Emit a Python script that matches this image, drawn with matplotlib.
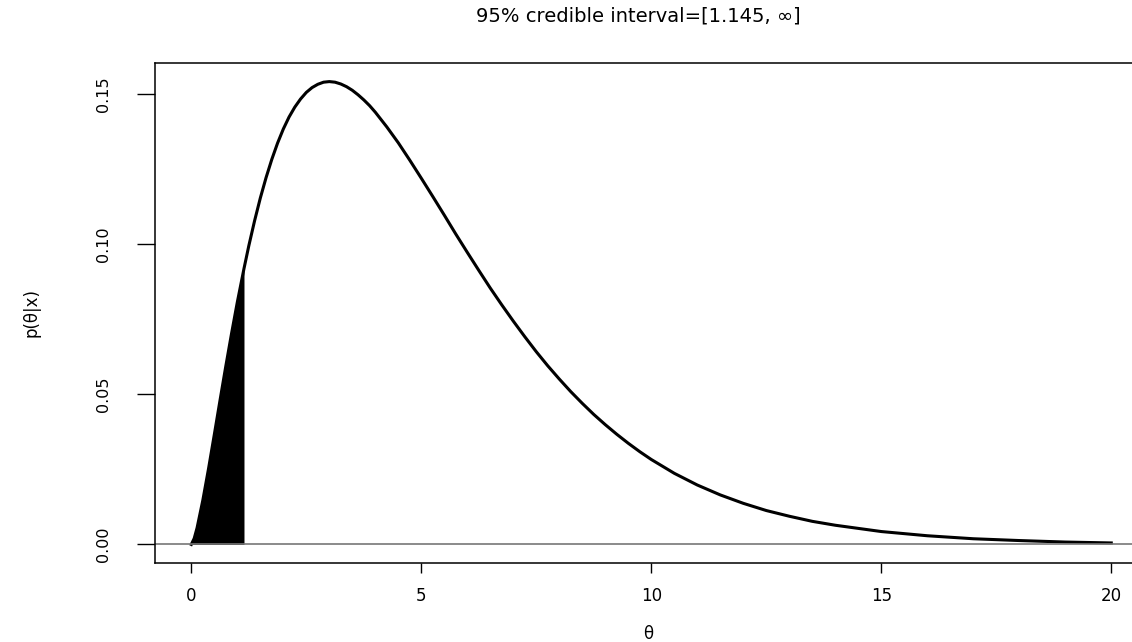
import matplotlib
matplotlib.use("Agg")
import matplotlib.pyplot as plt

plt.rcParams['font.family'] = ['DejaVu Sans']

# posterior density values
theta = [0, 0.0625, 0.125, 0.25, 0.375, 0.5, 0.625, 0.75, 0.875, 1.0, 1.145,
         1.25, 1.375, 1.5, 1.625, 1.75, 1.875, 2.0, 2.125, 2.25, 2.375, 2.5,
         2.625, 2.75, 2.875, 3.0, 3.125, 3.25, 3.375, 3.5, 3.625, 3.75, 3.875,
         4.0, 4.25, 4.5, 4.75, 5.0, 5.25, 5.5, 5.75, 6.0, 6.25, 6.5, 6.75,
         7.0, 7.25, 7.5, 7.75, 8.0, 8.25, 8.5, 8.75, 9.0, 9.25, 9.5, 9.75,
         10, 10.5, 11, 11.5, 12, 12.5, 13, 13.5, 14, 15, 16, 17, 18, 19, 20]
dens = [0.0, 0.0020, 0.0055, 0.0147, 0.0253, 0.0366, 0.0481, 0.0594, 0.0703,
        0.0807, 0.0919, 0.0995, 0.1078, 0.1154, 0.1222, 0.1283, 0.1337, 0.1384,
        0.1424, 0.1457, 0.1484, 0.1506, 0.1522, 0.1533, 0.1540, 0.1542, 0.1540,
        0.1534, 0.1525, 0.1513, 0.1498, 0.1481, 0.1462, 0.1440, 0.1391, 0.1338,
        0.1280, 0.1220, 0.1159, 0.1097, 0.1034, 0.0973, 0.0913, 0.0854, 0.0798,
        0.0744, 0.0692, 0.0642, 0.0595, 0.0551, 0.0509, 0.0470, 0.0433, 0.0399,
        0.0367, 0.0337, 0.0309, 0.0283, 0.0237, 0.0198, 0.0165, 0.0137, 0.0113,
        0.0094, 0.0077, 0.0064, 0.0043, 0.0029, 0.0019, 0.0013, 0.0008, 0.0005]
lower = 1.145
xticks = [0, 5, 10, 15, 20]
yticks = [0.00, 0.05, 0.10, 0.15]

fig = plt.figure(figsize=(11.32, 6.42), dpi=100)
ax = fig.add_axes([0.1365, 0.1231, 0.8777, 0.7788])

n = theta.index(lower) + 1
ax.fill_between(theta[:n], 0, dens[:n], color='black', linewidth=0)
ax.plot(theta, dens, color='black', lw=2.2)
ax.axhline(0, color='#777777', lw=1.2)

ax.set_xlim(-0.8, 20.8)
ax.set_ylim(-0.00617, 0.1604)
ax.set_xticks(xticks)
ax.set_xticklabels([str(t) for t in xticks], fontsize=12)
ax.set_yticks(yticks)
ax.set_yticklabels(['%.2f' % t for t in yticks], fontsize=11.5, rotation=90, va='center')
ax.tick_params(axis='x', length=7, width=1, pad=10)
ax.tick_params(axis='y', length=13, width=1, pad=18)
for s in ax.spines.values():
    s.set_linewidth(1.1)

ax.set_xlabel('θ', fontsize=12)
ax.xaxis.set_label_coords(0.4966, -0.125)
ax.set_ylabel('p(θ|x)', fontsize=12)
ax.yaxis.set_label_coords(-0.1143, 0.5)
ax.set_title('95% credible interval=[1.145, ∞]', fontsize=14, x=0.4866, y=1.066)

fig.savefig('out.png', dpi=100)
